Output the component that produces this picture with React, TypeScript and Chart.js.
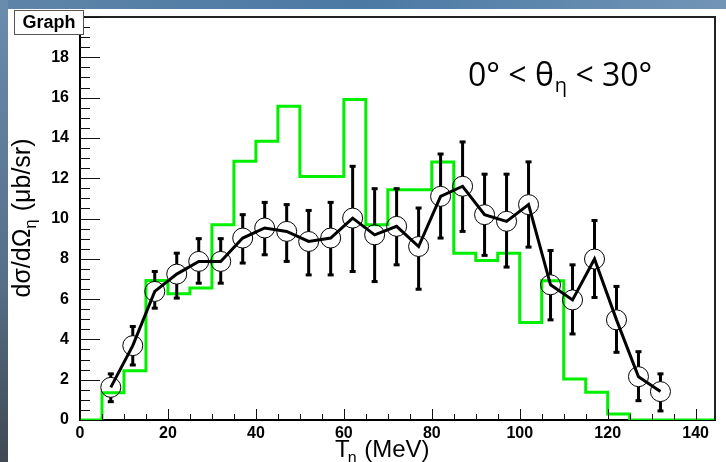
import React, { useEffect, useRef } from 'react';
import { Chart, registerables } from 'chart.js';
Chart.register(...registerables);

// ---- data ----
const X_MAX = 144.4;
const Y_MAX = 20;
const xTicks = [0, 20, 40, 60, 80, 100, 120, 140];
const yTicks = [0, 2, 4, 6, 8, 10, 12, 14, 16, 18, 20];

// green histogram: left bin edges and contents (5 MeV bins)
const greenBinStarts = [0, 5, 10, 15, 20, 25, 30, 35, 40, 45, 50, 55, 60, 65, 70, 75, 80, 85, 90, 95, 100, 105, 110, 115, 120, 125, 130, 135, 140];
const greenValues = [0, 1.35, 2.44, 6.92, 6.26, 6.55, 9.69, 12.84, 13.83, 15.57, 12.09, 12.09, 15.9, 9.69, 11.43, 11.43, 12.81, 8.28, 7.92, 8.28, 4.84, 6.91, 2.04, 1.38, 0.3, 0, 0, 0, 0];

// measured points
const dataX = [7, 12, 17, 22, 27, 32, 37, 42, 47, 52, 57, 62, 67, 72, 77, 82, 87, 92, 97, 102, 107, 112, 117, 122, 127, 132];
const dataY = [1.62, 3.69, 6.38, 7.24, 7.87, 7.87, 9.03, 9.53, 9.36, 8.86, 9.03, 10.02, 9.19, 9.61, 8.61, 11.1, 11.6, 10.19, 9.86, 10.69, 6.71, 5.96, 7.99, 4.97, 2.15, 1.41];
const errUpper = [2.29, 4.64, 7.37, 8.28, 9.0, 9.0, 10.19, 10.8, 10.69, 10.4, 10.8, 12.59, 11.48, 11.48, 10.52, 13.2, 13.8, 12.2, 12.2, 12.81, 8.41, 7.7, 9.9, 6.63, 3.39, 2.29];
const errLower = [0.91, 2.73, 5.55, 6.05, 6.79, 6.79, 7.79, 8.2, 7.87, 7.2, 7.2, 7.37, 6.87, 7.7, 6.49, 9.03, 9.36, 8.17, 7.59, 8.58, 4.97, 4.27, 6.08, 3.36, 0.96, 0.45];

const TITLE = 'Graph';
const FONT = '"Liberation Sans", Arial, Helvetica, sans-serif';
const MARKER_R = 10;

const decoPlugin = {
  id: 'deco',
  beforeDraw(chart: any) {
    const { ctx, width, height } = chart;
    ctx.save();
    ctx.fillStyle = '#ffffff';
    ctx.fillRect(0, 0, width, height);
    const gTop = ctx.createLinearGradient(0, 0, width, 0);
    gTop.addColorStop(0, '#5f84a8');
    gTop.addColorStop(0.5, '#4b79a4');
    gTop.addColorStop(1, '#7295b6');
    ctx.fillStyle = gTop;
    ctx.fillRect(0, 0, width, 9);
    const gLeft = ctx.createLinearGradient(0, 0, 0, height);
    gLeft.addColorStop(0, '#6a8cae');
    gLeft.addColorStop(0.6, '#566f88');
    gLeft.addColorStop(1, '#3f4952');
    ctx.fillStyle = gLeft;
    ctx.fillRect(0, 0, 8, height);
    ctx.restore();
  },
  afterDatasetsDraw(chart: any) {
    const { ctx } = chart;
    const x = chart.scales.x;
    const y = chart.scales.y;
    ctx.save();
    ctx.strokeStyle = '#000';
    ctx.fillStyle = '#000';
    ctx.lineWidth = 3;
    dataX.forEach((xv, i) => {
      const px = x.getPixelForValue(xv);
      const py = y.getPixelForValue(dataY[i]);
      const top = y.getPixelForValue(errUpper[i]);
      const bot = y.getPixelForValue(errLower[i]);
      ctx.beginPath();
      if (py - MARKER_R > top) {
        ctx.moveTo(px, py - MARKER_R);
        ctx.lineTo(px, top);
      }
      if (py + MARKER_R < bot) {
        ctx.moveTo(px, py + MARKER_R);
        ctx.lineTo(px, bot);
      }
      ctx.stroke();
      if (py - MARKER_R > top) ctx.fillRect(px - 3, top - 1.5, 6, 3);
      if (py + MARKER_R < bot) ctx.fillRect(px - 3, bot - 1.5, 6, 3);
    });
    ctx.restore();
  },
  afterDraw(chart: any) {
    const { ctx, chartArea } = chart;
    const x = chart.scales.x;
    const y = chart.scales.y;
    const { left, right, top, bottom } = chartArea;
    ctx.save();
    // frame top/right
    ctx.strokeStyle = '#222';
    ctx.lineWidth = 2;
    ctx.beginPath();
    ctx.moveTo(left, top);
    ctx.lineTo(right, top);
    ctx.lineTo(right, bottom);
    ctx.stroke();
    // ticks (inward)
    ctx.strokeStyle = '#111';
    ctx.lineWidth = 1;
    ctx.beginPath();
    for (let v = 0; v <= Y_MAX + 1e-6; v += 0.5) {
      const py = Math.round(y.getPixelForValue(v)) + 0.5;
      const major = Math.abs(v / 2 - Math.round(v / 2)) < 1e-6;
      ctx.moveTo(left, py);
      ctx.lineTo(left + (major ? 20 : 10), py);
    }
    for (let v = 0; v <= X_MAX + 1e-6; v += 5) {
      const px = Math.round(x.getPixelForValue(v)) + 0.5;
      const major = v % 20 === 0;
      ctx.moveTo(px, bottom);
      ctx.lineTo(px, bottom - (major ? 11 : 6));
    }
    ctx.stroke();

    // x title
    ctx.fillStyle = '#000';
    ctx.textAlign = 'left';
    ctx.textBaseline = 'alphabetic';
    let tx = 335;
    const tyb = 457;
    ctx.font = `24px ${FONT}`;
    ctx.fillText('T', tx, tyb);
    tx += ctx.measureText('T').width - 2;
    ctx.font = `16px ${FONT}`;
    ctx.fillText('η', tx, tyb + 6);
    tx += ctx.measureText('η').width + 1;
    ctx.font = `24px ${FONT}`;
    ctx.fillText(' (MeV)', tx, tyb);

    // y title (rotated)
    ctx.save();
    ctx.font = `25px ${FONT}`;
    const p1 = 'dσ/dΩ';
    const p3 = ' (μb/sr)';
    const w1 = ctx.measureText(p1).width;
    const w3 = ctx.measureText(p3).width;
    ctx.font = `17px ${FONT}`;
    const w2 = ctx.measureText('η').width + 1;
    const total = w1 + w2 + w3;
    ctx.translate(30, 218 + total / 2);
    ctx.rotate(-Math.PI / 2);
    ctx.font = `25px ${FONT}`;
    ctx.fillText(p1, 0, 0);
    ctx.font = `17px ${FONT}`;
    ctx.fillText('η', w1, 6);
    ctx.font = `25px ${FONT}`;
    ctx.fillText(p3, w1 + w2, 0);
    ctx.restore();

    // angle label
    const big = '32px "Open Sans", sans-serif';
    const small = '20px "Open Sans", sans-serif';
    let ax = 468;
    const ab = 86;
    ctx.font = big;
    ctx.fillText('0° < θ', ax, ab);
    ax += ctx.measureText('0° < θ').width + 1;
    ctx.font = small;
    ctx.fillText('η', ax, 92);
    ax += ctx.measureText('η').width;
    ctx.font = big;
    ctx.fillText(' < 30°', ax, ab);

    // title box
    ctx.fillStyle = '#fff';
    ctx.fillRect(14.5, 10.5, 69, 24);
    ctx.strokeStyle = '#555';
    ctx.lineWidth = 1;
    ctx.strokeRect(14.5, 10.5, 69, 24);
    ctx.fillStyle = '#000';
    ctx.font = `bold 18px ${FONT}`;
    ctx.textAlign = 'center';
    ctx.textBaseline = 'middle';
    ctx.fillText(TITLE, 49, 23);
    ctx.restore();
  },
};

export default function App() {
  const ref = useRef<HTMLCanvasElement | null>(null);
  useEffect(() => {
    if (!ref.current) return;
    const pts = dataX.map((xv, i) => ({ x: xv, y: dataY[i] }));
    const green = greenBinStarts.map((xv, i) => ({ x: xv, y: greenValues[i] }));
    green.push({ x: X_MAX, y: 0 });
    const chart = new Chart(ref.current, {
      type: 'line',
      data: {
        datasets: [
          {
            label: 'data',
            data: pts,
            order: 0,
            borderColor: '#000',
            borderWidth: 3,
            tension: 0,
            pointRadius: MARKER_R,
            pointStyle: 'circle',
            pointBorderColor: '#000',
            pointBorderWidth: 1,
            pointBackgroundColor: 'rgba(0,0,0,0)',
            fill: false,
          } as any,
          {
            label: 'model',
            data: green,
            order: 1,
            borderColor: '#00f000',
            borderWidth: 3,
            stepped: 'before',
            pointRadius: 0,
            fill: false,
          } as any,
        ],
      },
      options: {
        animation: false,
        responsive: false,
        layout: { padding: { left: 0, top: 17, right: 9, bottom: 0 } },
        plugins: { legend: { display: false }, tooltip: { enabled: false }, title: { display: false } },
        scales: {
          x: {
            type: 'linear',
            min: 0,
            max: X_MAX,
            afterBuildTicks: (s: any) => { s.ticks = xTicks.map((v) => ({ value: v })); },
            afterFit: (s: any) => { s.height = 42; },
            ticks: { font: { family: FONT, size: 16, weight: 'bold' }, color: '#000', padding: -4, maxRotation: 0, autoSkip: false },
            grid: { display: false },
            border: { display: true, color: '#000', width: 2 },
          },
          y: {
            type: 'linear',
            min: 0,
            max: Y_MAX,
            afterBuildTicks: (s: any) => { s.ticks = yTicks.map((v) => ({ value: v })); },
            afterFit: (s: any) => { s.width = 80; },
            ticks: {
              font: { family: FONT, size: 16, weight: 'bold' },
              color: '#000',
              padding: 3,
              autoSkip: false,
              callback: (v: any) => (v === Y_MAX ? '' : String(v)),
            },
            grid: { display: false },
            border: { display: true, color: '#000', width: 2 },
          },
        },
      } as any,
      plugins: [decoPlugin],
    });
    return () => chart.destroy();
  }, []);
  return (
    <div style={{ position: 'absolute', left: 0, top: 0, width: 726, height: 462 }}>
      <canvas ref={ref} width={726} height={462} style={{ display: 'block' }} />
    </div>
  );
}
